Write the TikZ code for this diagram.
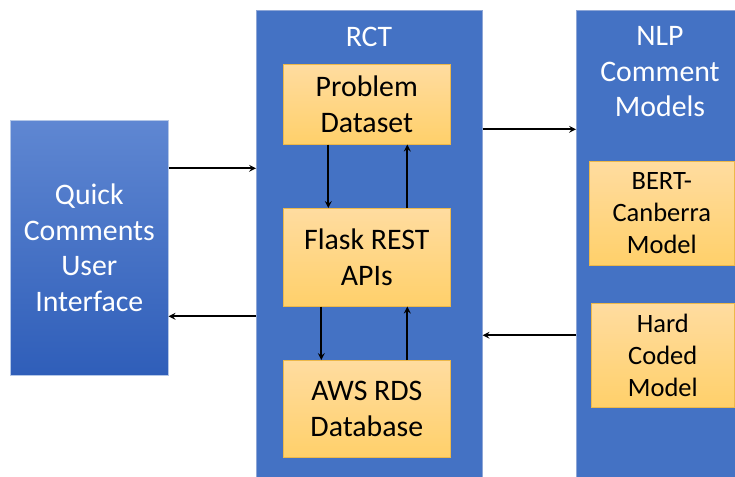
\documentclass[tikz,border=0pt]{standalone}
\usepackage{fontspec}
\setmainfont{Carlito}
\usetikzlibrary{arrows, positioning}
\definecolor{boxblue}{HTML}{4472C4}
\definecolor{edgeblue}{HTML}{8EA6D6}
\definecolor{uitop}{HTML}{5F87D2}
\definecolor{uibottom}{HTML}{2F5EB9}
\definecolor{uiedge}{HTML}{B4C7E7}
\definecolor{orangetop}{HTML}{FFDCA0}
\definecolor{orangebottom}{HTML}{FFD06A}
\definecolor{orangeedge}{HTML}{EDB84A}
\newcommand{\bigtext}{\fontsize{29.8}{35.5}\selectfont}
\newcommand{\smalltext}{\fontsize{26.5}{32}\selectfont}
\tikzstyle{container} = [rectangle, anchor=north west,
inner sep=0pt,
draw=edgeblue, line width=0.6pt,
fill=boxblue]
\tikzstyle{ui} = [rectangle, anchor=north west,
inner sep=0pt,
text centered, align=center,
draw=uiedge, line width=0.6pt,
top color=uitop, bottom color=uibottom,
text=white, font=\bigtext]
\tikzstyle{process} = [rectangle, anchor=north west,
inner sep=0pt,
text centered, align=center,
draw=orangeedge, line width=0.6pt,
top color=orangetop, bottom color=orangebottom,
font=\bigtext]
\tikzstyle{model} = [process, font=\smalltext]
\tikzstyle{title} = [text=white, align=center, font=\bigtext]
\tikzstyle{arrow} = [line width=2pt,->,>=stealth]

\begin{document}
\begin{tikzpicture}[x=1pt, y=-1pt]
\useasboundingbox (0,0) rectangle (735,476);
\clip (0,0) rectangle (735,476);

\node (ui) [ui, minimum width=158pt, minimum height=255pt] at (10,120) {Quick\\Comments\\User\\Interface};

\node (rct) [container, minimum width=226pt, minimum height=480pt] at (256,10) {};
\node (rcttitle) [title] at (369,37) {RCT};
\node (problem) [process, minimum width=167pt, minimum height=80pt] at (283,64) {Problem\\Dataset};
\node (flask) [process, minimum width=167pt, minimum height=98pt] at (283,208) {Flask REST\\APIs};
\node (aws) [process, minimum width=167pt, minimum height=97pt] at (283,360) {AWS RDS\\Database};

\node (nlp) [container, minimum width=170pt, minimum height=480pt] at (576,10) {};
\node (nlptitle) [title] at (660,72) {NLP\\Comment\\Models};
\node (bert) [model, minimum width=145pt, minimum height=104pt] at (589,161) {BERT-\\Canberra\\Model};
\node (hard) [model, minimum width=143pt, minimum height=104pt] at (591,303) {Hard\\Coded\\Model};

\draw [arrow] ([yshift=79.5pt]ui.east) -- ([yshift=79.5pt]ui.east -| rct.west);
\draw [arrow] ([yshift=-68.5pt]ui.east -| rct.west) -- ([yshift=-68.5pt]ui.east);
\draw [arrow] ([xshift=-38.5pt]problem.south) -- ([xshift=-38.5pt]problem.south |- flask.north);
\draw [arrow] ([xshift=40.5pt]flask.north) -- ([xshift=40.5pt]problem.south);
\draw [arrow] ([xshift=-45.5pt]flask.south) -- ([xshift=-45.5pt]flask.south |- aws.north);
\draw [arrow] ([xshift=40.5pt]aws.north) -- ([xshift=40.5pt]flask.south);
\draw [arrow] ([yshift=-25pt]problem.east -| rct.east) -- ([yshift=-25pt]problem.east -| nlp.west);
\draw [arrow] ([yshift=20pt]hard.west -| nlp.west) -- ([yshift=20pt]hard.west -| rct.east);
\end{tikzpicture}
\end{document}
